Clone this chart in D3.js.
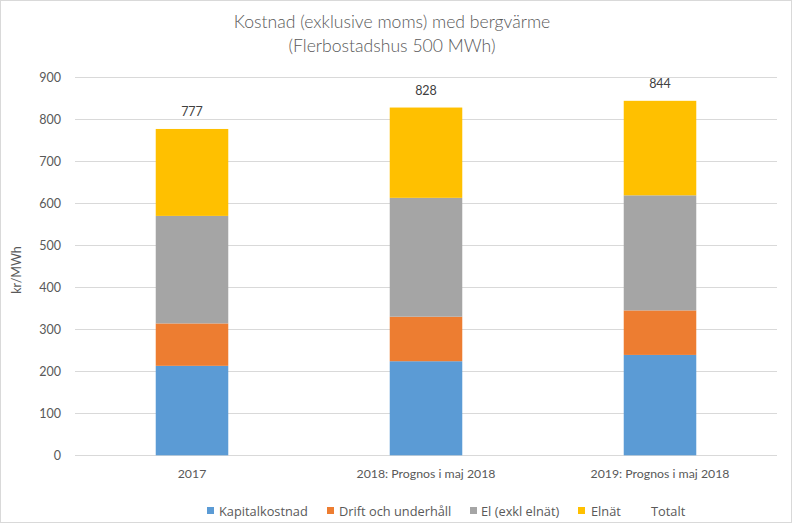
<!DOCTYPE html>
<html><head><meta charset="utf-8">
<script src="https://cdn.jsdelivr.net/npm/d3@7"></script>
<style>body{margin:0;background:#fff}svg{display:block}text{font-family:Lato,"Open Sans",sans-serif}</style>
</head><body>
<script>
const categories = ["2017", "2018: Prognos i maj 2018", "2019: Prognos i maj 2018"];
const seriesNames = ["Kapitalkostnad", "Drift och underhåll", "El (exkl elnät)", "Elnät"];
const kapitalkostnad = [213, 224, 239];
const driftUnderhall = [101, 106, 106];
const elExklElnat = [256, 283, 274];
const elnat = [207, 215, 225];
const totalt = [777, 828, 844];
const yTicks = [0, 100, 200, 300, 400, 500, 600, 700, 800, 900];
const colors = ["#5B9BD5", "#ED7D31", "#A5A5A5", "#FFC000"];

const W = 792, H = 523;
const svg = d3.select("body").append("svg").attr("width", W).attr("height", H);
svg.append("rect").attr("x", 0.5).attr("y", 0.5).attr("width", W - 1).attr("height", H - 1)
  .attr("fill", "#fff").attr("stroke", "#D9D9D9");

const x = d3.scaleBand().domain(categories).range([75, 777]).paddingInner(0.69).paddingOuter(0.345);
const y = d3.scaleLinear().domain([0, 900]).range([455.3, 77.3]);

// gridlines
svg.append("g").selectAll("line").data(yTicks).join("line")
  .attr("x1", 75).attr("x2", 777)
  .attr("y1", d => Math.round(y(d)) + 0.5).attr("y2", d => Math.round(y(d)) + 0.5)
  .attr("stroke", "#D9D9D9").attr("stroke-width", 1);

// y labels
svg.append("g").selectAll("text").data(yTicks).join("text")
  .attr("x", 61).attr("y", d => y(d)).attr("dy", "0.35em").attr("text-anchor", "end")
  .attr("font-size", 12.5).attr("fill", "#595959").text(d => d);

// stack
const rows = categories.map((c, i) => ({cat: c, s0: kapitalkostnad[i], s1: driftUnderhall[i], s2: elExklElnat[i], s3: elnat[i]}));
const stack = d3.stack().keys(["s0", "s1", "s2", "s3"])(rows);
svg.append("g").selectAll("g").data(stack).join("g").attr("fill", (d, i) => colors[i])
  .selectAll("rect").data(d => d).join("rect")
  .attr("x", d => x(d.data.cat)).attr("width", x.bandwidth())
  .attr("y", d => y(d[1])).attr("height", d => y(d[0]) - y(d[1]));

// total labels
svg.append("g").selectAll("text").data(categories).join("text")
  .attr("x", d => x(d) + x.bandwidth() / 2).attr("y", (d, i) => y(totalt[i]) - 13)
  .attr("text-anchor", "middle").attr("font-size", 12.5).attr("fill", "#404040")
  .text((d, i) => totalt[i]);

// x labels
svg.append("g").selectAll("text").data(categories).join("text")
  .attr("x", d => x(d) + x.bandwidth() / 2).attr("y", 478)
  .attr("text-anchor", "middle").attr("font-size", 12.3).attr("fill", "#595959").text(d => d);

// y title
svg.append("text").attr("transform", "translate(21,270) rotate(-90)")
  .attr("text-anchor", "middle").attr("font-size", 12.5).attr("fill", "#595959").text("kr/MWh");

// title
svg.append("text").attr("x", 392).attr("y", 28).attr("text-anchor", "middle")
  .attr("font-size", 17.6).attr("fill", "#595959").attr("font-weight", 300).text("Kostnad (exklusive moms) med bergvärme");
svg.append("text").attr("x", 392).attr("y", 52).attr("text-anchor", "middle")
  .attr("font-size", 17.6).attr("fill", "#595959").attr("font-weight", 300).text("(Flerbostadshus 500 MWh)");

// legend
const legendItems = [
  {name: seriesNames[0], color: colors[0], x: 207, tx: 219},
  {name: seriesNames[1], color: colors[1], x: 327, tx: 339},
  {name: seriesNames[2], color: colors[2], x: 470, tx: 481},
  {name: seriesNames[3], color: colors[3], x: 578, tx: 591},
  {name: "Totalt", color: null, x: 640, tx: 651}
];
const lg = svg.append("g").selectAll("g").data(legendItems).join("g");
lg.filter(d => d.color).append("rect").attr("x", d => d.x).attr("y", 507).attr("width", 7).attr("height", 7).attr("fill", d => d.color);
lg.append("text").attr("x", d => d.tx).attr("y", 516).attr("font-size", 12.8)
  .style("font-family", "'Open Sans', sans-serif").attr("fill", "#595959").text(d => d.name);
</script>
</body></html>
